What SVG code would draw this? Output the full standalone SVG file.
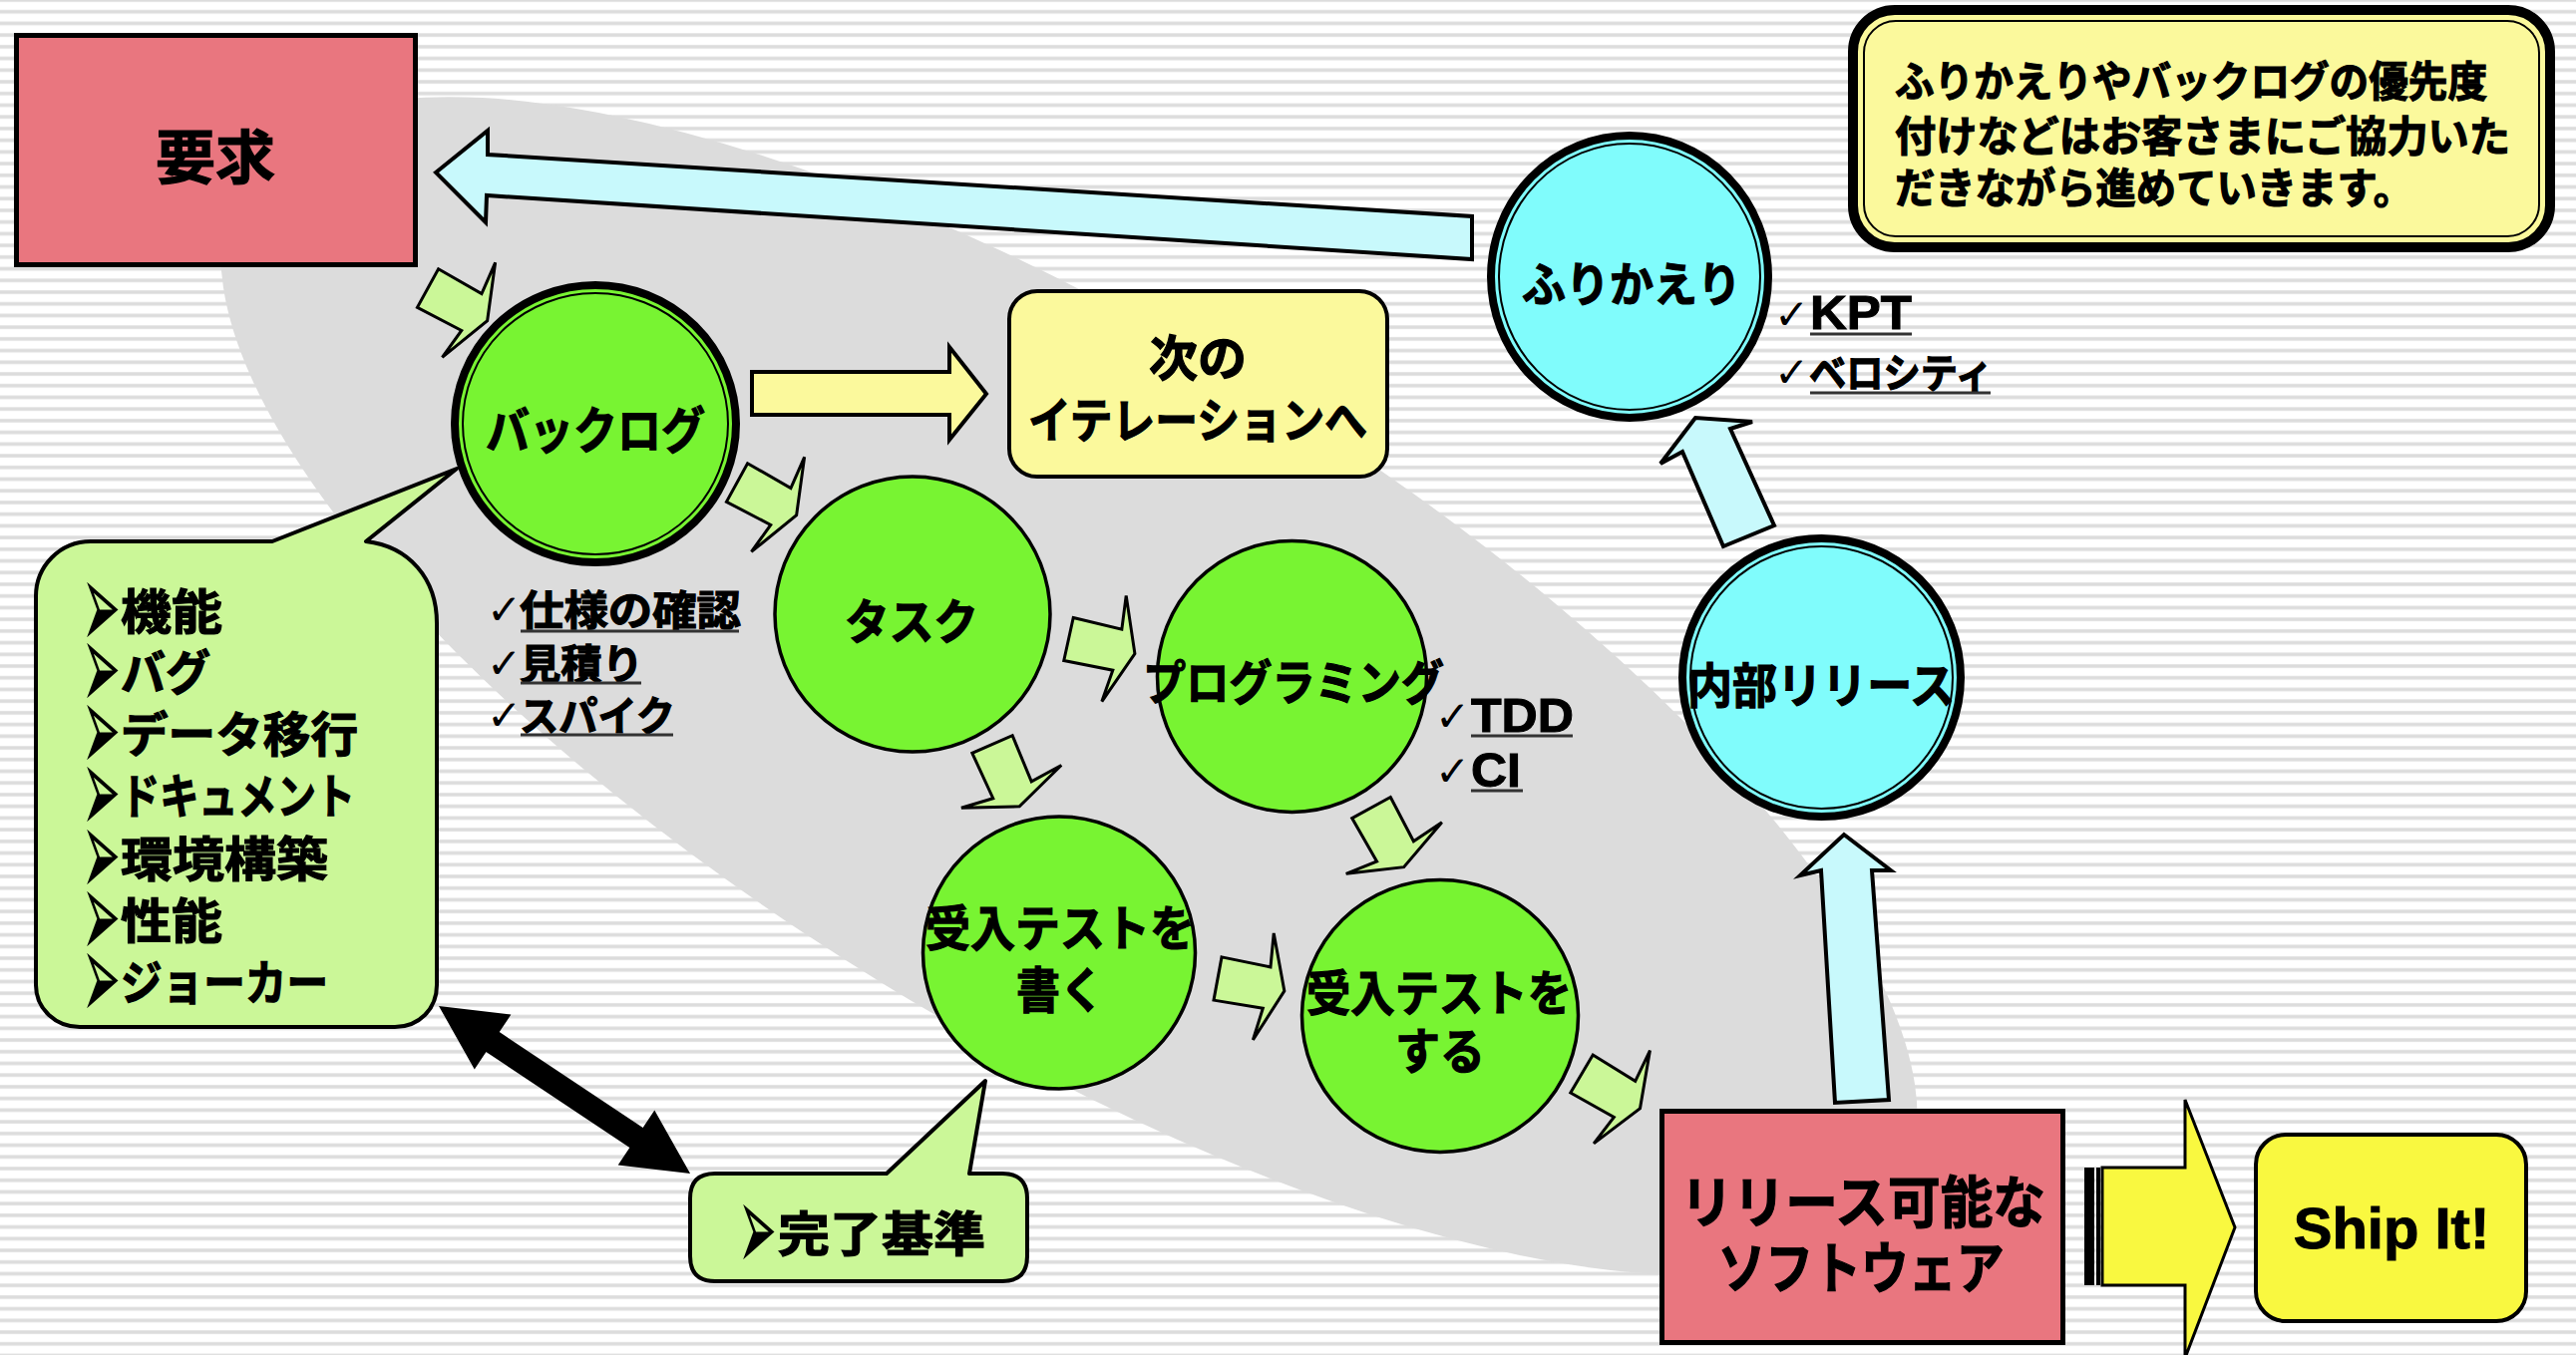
<svg xmlns="http://www.w3.org/2000/svg" width="2583" height="1359" viewBox="0 0 2583 1359">
<defs>
<pattern id="stripes" patternUnits="userSpaceOnUse" x="0" y="-2" width="40" height="11.72">
<rect width="40" height="11.72" fill="#ffffff"/>
<rect y="0" width="40" height="4" fill="#e6e6e6"/>
<rect y="0.8" width="40" height="2.4" fill="#dcdcdc"/>
</pattern>
<path id="sarrow" d="M0,-22 L50,-21 L47,-55 L68,0 L46,54 L50,21 L0,22 Z"/>
</defs>
<style>
.jp{font-family:'Noto Sans CJK JP','Noto Sans CJK SC',sans-serif;font-weight:700;fill:#000;stroke:#000;stroke-width:1.2}
.lat{font-family:'Liberation Sans',Arial,sans-serif;font-weight:700;fill:#000;stroke:#000;stroke-width:1}
.chk{font-family:'DejaVu Sans',sans-serif;font-weight:400;fill:#000}
.bul{font-family:'DejaVu Sans',sans-serif;font-weight:400;fill:#000;font-size:70px}
.pink{fill:#e9767f;stroke:#000;stroke-width:5}
.green{fill:#78f432;stroke:#000;stroke-width:3.5}
.ring{fill:none;stroke:#000;stroke-width:2}
.sa{fill:#cbf798;stroke:#000;stroke-width:3;stroke-linejoin:miter}
.cy{fill:#c8f9fc;stroke:#000;stroke-width:4;stroke-linejoin:miter}
.ul{stroke:#333;stroke-width:3}
.bub{fill:#cbf798;stroke:#000;stroke-width:4;stroke-linejoin:round}
</style>
<rect width="2583" height="1359" fill="url(#stripes)"/>
<ellipse cx="1072" cy="688" rx="974" ry="352" transform="rotate(31.5 1072 688)" fill="#dcdcdc"/>

<g id="connectors">
<polygon class="cy" stroke-width="5" points="437,173 489,131 489,155 1476,217 1476,260 488,196 487,223"/>
<polygon fill="#fbf99c" stroke="#000" stroke-width="4" points="754,373 952,373 952,348 989,395 952,441 952,416 754,416"/>
<use href="#sarrow" class="sa" transform="translate(429,289) rotate(28.7)"/>
<use href="#sarrow" class="sa" transform="translate(739,484) rotate(28.7)"/>
<use href="#sarrow" class="sa" transform="translate(1071.5,641) rotate(12.4)"/>
<use href="#sarrow" class="sa" transform="translate(995,746.5) rotate(66.4)"/>
<use href="#sarrow" class="sa" transform="translate(1375,810) rotate(61.3)"/>
<use href="#sarrow" class="sa" transform="translate(1221,981.5) rotate(10.5)"/>
<use href="#sarrow" class="sa" transform="translate(1586,1077) rotate(30.6)"/>
<polygon class="cy" points="1728,548 1687,453 1665,465 1700,419 1757,423 1735,430 1779,527"/>
<polygon class="cy" points="1840,1106 1826,873 1805,878 1849,837 1896,873 1877,873 1894,1103"/>
<rect x="2090" y="1171" width="10" height="118" fill="#000"/>
<rect x="2102" y="1171" width="4" height="118" fill="#000"/>
<polygon fill="#f9f840" stroke="#000" stroke-width="3" points="2108,1171 2191,1171 2191,1103 2241,1231 2191,1362 2191,1289 2108,1289"/>
<polygon fill="#000" transform="translate(440,1009) rotate(33.7)" points="0,0 65,-33 65,-12 238,-12 238,-33 303,0 238,33 238,12 65,12 65,33"/>
</g>

<g id="youkyu">
<rect x="16.5" y="35.5" width="400" height="230" class="pink"/>
<text class="jp" x="216" y="179" font-size="58" text-anchor="middle" textLength="120" lengthAdjust="spacingAndGlyphs">要求</text>
</g>

<g id="backlog">
<ellipse cx="597" cy="425" rx="141" ry="139" fill="#78f432" stroke="#000" stroke-width="8"/>
<ellipse cx="597" cy="425" rx="133" ry="131" class="ring"/>
<text class="jp" x="597" y="450" font-size="50" text-anchor="middle" textLength="220" lengthAdjust="spacingAndGlyphs">バックログ</text>
</g>

<g id="next-iteration">
<rect x="1012" y="292" width="379" height="186" rx="28" fill="#fbf99c" stroke="#000" stroke-width="4"/>
<text class="jp" x="1201" y="377" font-size="49" text-anchor="middle" textLength="98" lengthAdjust="spacingAndGlyphs">次の</text>
<text class="jp" x="1201" y="439" font-size="48" text-anchor="middle" textLength="340" lengthAdjust="spacingAndGlyphs">イテレーションへ</text>
</g>

<g id="task">
<ellipse cx="915" cy="616" rx="138" ry="138" class="green"/>
<text class="jp" x="914" y="641" font-size="48" text-anchor="middle" textLength="134" lengthAdjust="spacingAndGlyphs">タスク</text>
</g>

<g id="programming">
<ellipse cx="1295.5" cy="678.5" rx="135" ry="136" class="green"/>
<text class="jp" x="1297" y="702" font-size="48" text-anchor="middle" textLength="302" lengthAdjust="spacingAndGlyphs">プログラミング</text>
</g>

<g id="write-acceptance-test">
<ellipse cx="1062" cy="955.5" rx="136.5" ry="136.5" class="green"/>
<text class="jp" x="1063" y="949" font-size="49" text-anchor="middle" textLength="270" lengthAdjust="spacingAndGlyphs">受入テストを</text>
<text class="jp" x="1063" y="1011" font-size="49" text-anchor="middle" textLength="88" lengthAdjust="spacingAndGlyphs">書く</text>
</g>

<g id="run-acceptance-test">
<ellipse cx="1444" cy="1019" rx="138.5" ry="136.5" class="green"/>
<text class="jp" x="1443" y="1014" font-size="49" text-anchor="middle" textLength="266" lengthAdjust="spacingAndGlyphs">受入テストを</text>
<text class="jp" x="1444" y="1072" font-size="49" text-anchor="middle" textLength="90" lengthAdjust="spacingAndGlyphs">する</text>
</g>

<g id="internal-release">
<ellipse cx="1826.5" cy="679.5" rx="139.5" ry="139.5" fill="#80fcfc" stroke="#000" stroke-width="8"/>
<ellipse cx="1826.5" cy="679.5" rx="131.5" ry="131.5" class="ring"/>
<text class="jp" x="1826" y="705" font-size="48" text-anchor="middle" textLength="268" lengthAdjust="spacingAndGlyphs">内部リリース</text>
</g>

<g id="retrospective">
<ellipse cx="1634" cy="277.5" rx="139" ry="141.5" fill="#80fcfc" stroke="#000" stroke-width="8"/>
<ellipse cx="1634" cy="277.5" rx="131" ry="133.5" class="ring"/>
<text class="jp" x="1636" y="302" font-size="47" text-anchor="middle" textLength="220" lengthAdjust="spacingAndGlyphs">ふりかえり</text>
</g>

<g id="retro-notes">
<text class="chk" x="1779" y="330" font-size="42">✓</text>
<text class="lat" x="1815" y="330" font-size="48" textLength="102" lengthAdjust="spacingAndGlyphs">KPT</text>
<line class="ul" x1="1815" y1="335" x2="1917" y2="335"/>
<text class="chk" x="1779" y="388" font-size="42">✓</text>
<text class="jp" x="1814" y="389" font-size="41" textLength="184" lengthAdjust="spacingAndGlyphs">ベロシティ</text>
<line class="ul" x1="1815" y1="394" x2="1996" y2="394"/>
</g>

<g id="programming-notes">
<text class="chk" x="1439" y="733" font-size="42">✓</text>
<text class="lat" x="1475" y="734" font-size="48" textLength="103" lengthAdjust="spacingAndGlyphs">TDD</text>
<line class="ul" x1="1475" y1="738" x2="1577" y2="738"/>
<text class="chk" x="1439" y="788" font-size="42">✓</text>
<text class="lat" x="1475" y="789" font-size="48" textLength="50" lengthAdjust="spacingAndGlyphs">CI</text>
<line class="ul" x1="1475" y1="793" x2="1527" y2="793"/>
</g>

<g id="backlog-notes">
<text class="chk" x="488" y="626" font-size="42">✓</text>
<text class="jp" x="521" y="627" font-size="41" textLength="222" lengthAdjust="spacingAndGlyphs">仕様の確認</text>
<line class="ul" x1="522" y1="633" x2="741" y2="633"/>
<text class="chk" x="488" y="680" font-size="42">✓</text>
<text class="jp" x="521" y="681" font-size="41" textLength="124" lengthAdjust="spacingAndGlyphs">見積り</text>
<line class="ul" x1="522" y1="685" x2="643" y2="685"/>
<text class="chk" x="488" y="732" font-size="42">✓</text>
<text class="jp" x="521" y="733" font-size="41" textLength="156" lengthAdjust="spacingAndGlyphs">スパイク</text>
<line class="ul" x1="522" y1="737" x2="675" y2="737"/>
</g>

<g id="backlog-items">
<path class="bub" d="M36,598 C36,568 60,543 91,543 L273,543 L458,470 L367,543 C410,548 438,580 438,625 L438,988 C438,1012 420,1030 396,1030 L80,1030 C56,1030 36,1012 36,988 Z"/>
<text class="bul" transform="translate(82,651) scale(0.66,1.8)">➢</text>
<text class="jp" x="121" y="631" font-size="48" textLength="102" lengthAdjust="spacingAndGlyphs">機能</text>
<text class="bul" transform="translate(82,712) scale(0.66,1.8)">➢</text>
<text class="jp" x="121" y="692" font-size="48" textLength="90" lengthAdjust="spacingAndGlyphs">バグ</text>
<text class="bul" transform="translate(82,774) scale(0.66,1.8)">➢</text>
<text class="jp" x="121" y="754" font-size="48" textLength="238" lengthAdjust="spacingAndGlyphs">データ移行</text>
<text class="bul" transform="translate(82,836) scale(0.66,1.8)">➢</text>
<text class="jp" x="121" y="816" font-size="48" textLength="235" lengthAdjust="spacingAndGlyphs">ドキュメント</text>
<text class="bul" transform="translate(82,899) scale(0.66,1.8)">➢</text>
<text class="jp" x="121" y="879" font-size="48" textLength="208" lengthAdjust="spacingAndGlyphs">環境構築</text>
<text class="bul" transform="translate(82,961) scale(0.66,1.8)">➢</text>
<text class="jp" x="121" y="941" font-size="48" textLength="102" lengthAdjust="spacingAndGlyphs">性能</text>
<text class="bul" transform="translate(82,1023) scale(0.66,1.8)">➢</text>
<text class="jp" x="121" y="1003" font-size="48" textLength="208" lengthAdjust="spacingAndGlyphs">ジョーカー</text>
</g>

<g id="done-criteria">
<path class="bub" d="M717,1177 L889,1177 L988,1084 L972,1177 L1005,1177 Q1030,1177 1030,1202 L1030,1260 Q1030,1285 1005,1285 L717,1285 Q692,1285 692,1260 L692,1202 Q692,1177 717,1177 Z"/>
<text class="bul" transform="translate(740,1275) scale(0.66,1.8)">➢</text>
<text class="jp" x="780" y="1255" font-size="48" textLength="208" lengthAdjust="spacingAndGlyphs">完了基準</text>
</g>

<g id="releasable-software">
<rect x="1666.5" y="1114.5" width="402" height="232" class="pink"/>
<text class="jp" x="1868" y="1226" font-size="56" text-anchor="middle" textLength="366" lengthAdjust="spacingAndGlyphs">リリース可能な</text>
<text class="jp" x="1866" y="1292" font-size="56" text-anchor="middle" textLength="287" lengthAdjust="spacingAndGlyphs">ソフトウェア</text>
</g>

<g id="ship-it">
<rect x="2262" y="1138" width="271" height="187" rx="30" fill="#f9f840" stroke="#000" stroke-width="4"/>
<text class="lat" x="2398" y="1252" font-size="58" text-anchor="middle">Ship It!</text>
</g>

<g id="note">
<rect x="1858" y="10" width="699" height="238" rx="42" fill="#fbf99c" stroke="#000" stroke-width="10"/>
<rect x="1869" y="21" width="677" height="216" rx="32" class="ring"/>
<text class="jp" x="1900" y="97" font-size="42" textLength="594" lengthAdjust="spacingAndGlyphs">ふりかえりやバックログの優先度</text>
<text class="jp" x="1900" y="152" font-size="42" textLength="617" lengthAdjust="spacingAndGlyphs">付けなどはお客さまにご協力いた</text>
<text class="jp" x="1900" y="204" font-size="42" textLength="520" lengthAdjust="spacingAndGlyphs">だきながら進めていきます。</text>
</g>
</svg>
